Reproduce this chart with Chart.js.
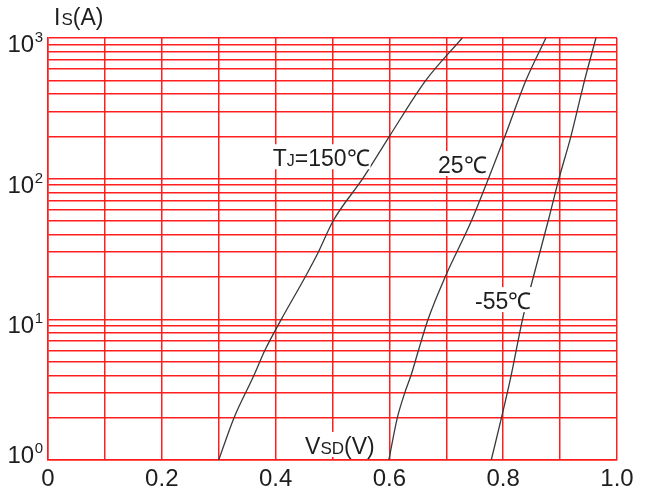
<!DOCTYPE html>
<html>
<head>
<meta charset="utf-8">
<script src="https://cdn.jsdelivr.net/npm/chart.js@4"></script>
<style>
html,body{margin:0;padding:0;background:#fff;}
#wrap{width:646px;height:495px;position:relative;}
</style>
</head>
<body>
<div id="wrap"><canvas id="c" width="646" height="495"></canvas></div>
<script>
// ---- data ----
const vsd150 = [0.300, 0.327, 0.362, 0.381, 0.410, 0.452, 0.475, 0.501, 0.553, 0.600, 0.664, 0.728];
const is150  = [1, 2, 4, 6, 10, 20, 30, 50, 100, 200, 500, 1000];
const vsd25  = [0.599, 0.614, 0.627, 0.638, 0.651, 0.668, 0.698, 0.744, 0.774, 0.803, 0.840, 0.875];
const is25   = [1, 2, 3, 4, 6, 10, 20, 50, 100, 200, 500, 1000];
const vsdM55 = [0.779, 0.797, 0.814, 0.834, 0.853, 0.879, 0.898, 0.919, 0.943, 0.963];
const isM55  = [1, 2, 4, 10, 20, 50, 100, 200, 500, 1000];

const xTickLabels = ['0', '0.2', '0.4', '0.6', '0.8', '1.0'];
const yDecades = [1, 10, 100, 1000];
const yExponents = ['0', '1', '2', '3'];
const yGridValues = [];
yDecades.forEach((d, i) => {
  const n = i < yDecades.length - 1 ? 9 : 1;
  for (let k = 1; k <= n; k++) yGridValues.push(d * k);
});
const curveLabels = [
  {main: 'T', sub: 'J', rest: '=150℃', x: 0.48, y: 142},
  {main: '25℃', sub: '', rest: '', x: 0.728, y: 127},
  {main: '-55℃', sub: '', rest: '', x: 0.80, y: 13.7},
];

const toPts = (xs, ys) => xs.map((x, i) => ({x: x, y: ys[i]}));

const RED = '#ff1e1e';
const TXT = '#1e1e1e';
const FONT = '"Liberation Sans", Arial, sans-serif';
const NARROW = '"Liberation Sans Narrow", "Liberation Sans", Arial, sans-serif';

const textPlugin = {
  id: 'texts',
  afterDatasetsDraw(chart) {
    const ctx = chart.ctx;
    const xs = chart.scales.x, ys = chart.scales.y;
    ctx.save();
    // y decade labels with superscripts
    yDecades.forEach((d, i) => {
      const py = ys.getPixelForValue(d);
      const base = i === 0 ? py + 3 : py + 14;
      ctx.fillStyle = TXT;
      ctx.textBaseline = 'alphabetic';
      ctx.font = '15px ' + NARROW;
      ctx.textAlign = 'right';
      ctx.fillText(yExponents[i], 43, base - 10);
      const ew = ctx.measureText(yExponents[i]).width;
      ctx.font = '24px ' + NARROW;
      ctx.fillText('10', 43 - ew - 0.5, base);
    });
    // curve labels with white background
    const drawMixed = (parts, cx, cy) => {
      let total = 0;
      parts.forEach(p => { ctx.font = p.size + 'px ' + FONT; total += ctx.measureText(p.t).width; });
      ctx.fillStyle = '#fff';
      ctx.fillRect(cx - total / 2 - 1, cy - 13, total + 2, 25);
      let x = cx - total / 2;
      ctx.fillStyle = TXT;
      ctx.textAlign = 'left';
      ctx.textBaseline = 'alphabetic';
      parts.forEach(p => {
        ctx.font = p.size + 'px ' + FONT;
        ctx.fillText(p.t, x, cy + 9);
        x += ctx.measureText(p.t).width;
      });
    };
    curveLabels.forEach(l => {
      const parts = [{t: l.main, size: 23}];
      if (l.sub) parts.push({t: l.sub, size: 16});
      if (l.rest) parts.push({t: l.rest, size: 23});
      drawMixed(parts, xs.getPixelForValue(l.x), ys.getPixelForValue(l.y));
    });
    // axis titles
    drawMixed([{t: 'V', size: 23}, {t: 'SD', size: 17}, {t: '(V)', size: 23}],
      xs.getPixelForValue(0.513), ys.getPixelForValue(1.28));
    ctx.fillStyle = TXT;
    ctx.textAlign = 'left';
    ctx.textBaseline = 'alphabetic';
    ctx.font = '23px ' + FONT;
    ctx.fillText('I', 54, 25);
    let w = ctx.measureText('I').width;
    ctx.font = '17px ' + FONT;
    ctx.fillText('S', 54 + w + 1, 25);
    w += ctx.measureText('S').width + 1;
    ctx.font = '23px ' + FONT;
    ctx.fillText('(A)', 54 + w, 25);
    ctx.restore();
  }
};

const lineDs = (pts) => ({
  data: pts,
  borderColor: '#3a3a3a',
  borderWidth: 1.3,
  pointRadius: 0,
  fill: false,
  cubicInterpolationMode: 'monotone',
});

new Chart(document.getElementById('c'), {
  type: 'line',
  data: {
    datasets: [
      lineDs(toPts(vsd150, is150)),
      lineDs(toPts(vsd25, is25)),
      lineDs(toPts(vsdM55, isM55)),
    ]
  },
  options: {
    responsive: false,
    animation: false,
    devicePixelRatio: 1,
    layout: {padding: {left: 0, right: 29, top: 38, bottom: 0}},
    plugins: {legend: {display: false}, tooltip: {enabled: false}},
    scales: {
      x: {
        type: 'linear',
        min: 0, max: 1,
        afterBuildTicks: (s) => { const t = []; for (let i = 0; i <= 10; i++) t.push({value: i / 10}); s.ticks = t; },
        afterFit: (s) => { s.height = 35; },
        grid: {color: RED, lineWidth: 1.5, drawTicks: false},
        border: {color: RED, width: 1.5},
        ticks: {
          autoSkip: false,
          maxRotation: 0,
          padding: 5,
          color: TXT,
          font: {family: NARROW, size: 24},
          callback: (v) => { const i = Math.round(v * 10); return i % 2 === 0 ? xTickLabels[i / 2] : ''; }
        }
      },
      y: {
        type: 'logarithmic',
        min: 1, max: 1000,
        afterBuildTicks: (s) => { s.ticks = yGridValues.map(v => ({value: v})); },
        afterFit: (s) => { s.width = 48; },
        grid: {color: RED, lineWidth: 1.5, drawTicks: false},
        border: {color: RED, width: 1.5},
        ticks: {display: true, autoSkip: false, callback: () => ''}
      }
    }
  },
  plugins: [textPlugin]
});
</script>
</body>
</html>
